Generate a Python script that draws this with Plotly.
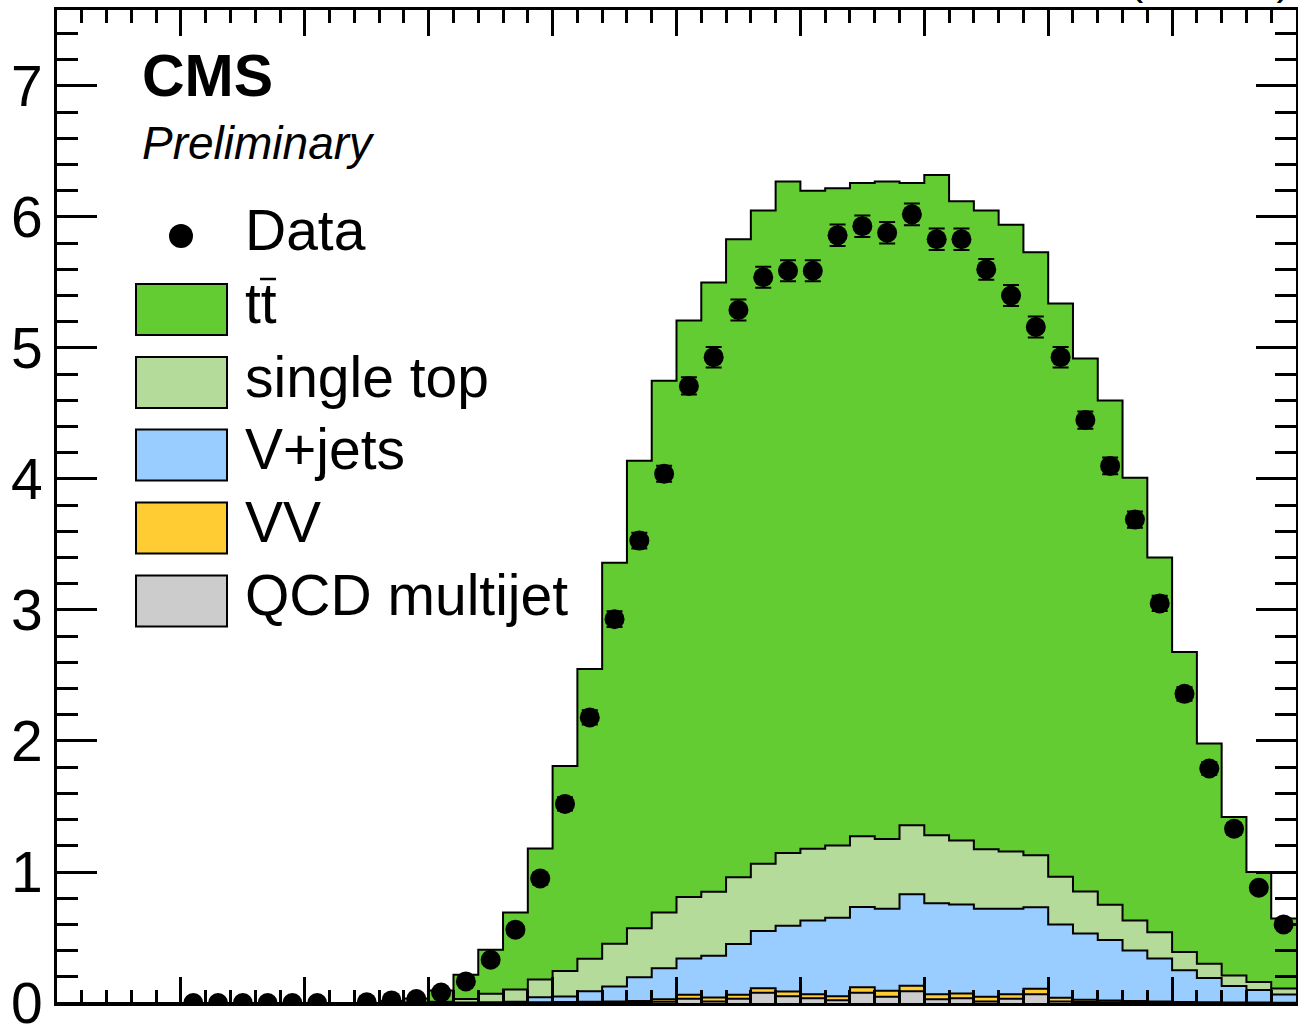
import plotly.graph_objects as go

# ---------------- data ----------------
N_BINS = 50
X_MIN, X_MAX = 0.0, 50.0
Y_MAX = 7.58
FIRST_MC_BIN = 13          # MC arrays below start at this bin
FIRST_DATA_BIN = 5         # data array below starts at this bin

ttbar = [0.015, 0.032, 0.085, 0.185, 0.336, 0.587, 1.00, 1.565, 2.212, 2.908,
         3.57, 4.06, 4.40, 4.65, 4.87, 4.987, 5.125, 5.022, 5.017, 4.988,
         5.019, 4.904, 5.04, 4.879, 4.877, 4.783, 4.603, 4.376, 4.068, 3.85,
         3.38, 2.86, 2.29, 1.68, 1.21, 0.84, 0.535]
single_top = [0.0, 0.002, 0.008, 0.026, 0.064, 0.093, 0.136, 0.195, 0.248, 0.326,
              0.373, 0.424, 0.47, 0.49, 0.51, 0.513, 0.555, 0.548, 0.553, 0.54,
              0.531, 0.526, 0.518, 0.489, 0.453, 0.437, 0.397, 0.364, 0.322, 0.27,
              0.23, 0.20, 0.14, 0.11, 0.08, 0.06, 0.045]
v_jets = [0.0, 0.001, 0.001, 0.002, 0.003, 0.006, 0.038, 0.042, 0.08, 0.114,
          0.182, 0.237, 0.277, 0.318, 0.387, 0.437, 0.502, 0.563, 0.598, 0.612,
          0.627, 0.699, 0.695, 0.68, 0.673, 0.653, 0.622, 0.56, 0.505, 0.46,
          0.385, 0.328, 0.242, 0.184, 0.126, 0.097, 0.063]
vv = [0.0, 0.0, 0.001, 0.001, 0.002, 0.002, 0.004, 0.005, 0.006, 0.008,
      0.01, 0.019, 0.031, 0.03, 0.031, 0.035, 0.036, 0.03, 0.031, 0.042,
      0.046, 0.041, 0.038, 0.035, 0.035, 0.035, 0.041, 0.028, 0.017, 0.014,
      0.01, 0.008, 0.005, 0.004, 0.003, 0.002, 0.001]
qcd = [0.0, 0.0, 0.0, 0.001, 0.001, 0.002, 0.002, 0.003, 0.004, 0.004,
       0.005, 0.01, 0.032, 0.012, 0.032, 0.078, 0.052, 0.037, 0.021, 0.078,
       0.047, 0.09, 0.029, 0.037, 0.012, 0.032, 0.067, 0.012, 0.008, 0.006,
       0.005, 0.004, 0.003, 0.002, 0.001, 0.001, 0.001]

data_vals = [0, 0, 0, 0, 0, 0, None, 0.005, 0.02, 0.03,
             0.08, 0.165, 0.33, 0.56, 0.95, 1.52, 2.18, 2.93, 3.53, 4.04,
             4.71, 4.93, 5.29, 5.54, 5.59, 5.59, 5.86, 5.93, 5.88, 6.02,
             5.83, 5.83, 5.60, 5.40, 5.16, 4.93, 4.45, 4.10, 3.69, 3.05,
             2.36, 1.79, 1.33, 0.88, 0.60]
data_errs = [0, 0, 0, 0, 0, 0, None, 0.005, 0.01, 0.01,
             0.015, 0.02, 0.03, 0.035, 0.045, 0.05, 0.055, 0.06, 0.06, 0.062,
             0.066, 0.078, 0.08, 0.08, 0.08, 0.08, 0.082, 0.082, 0.082, 0.083,
             0.082, 0.082, 0.08, 0.08, 0.08, 0.078, 0.066, 0.064, 0.062, 0.058,
             0.052, 0.048, 0.043, 0.035, 0.03]

legend_labels = ["Data", "tt", "single top", "V+jets", "VV", "QCD multijet"]
colors = {"ttbar": "#63CC33", "single_top": "#B5DB9B", "v_jets": "#99CCFF",
          "vv": "#FFCC33", "qcd": "#CCCCCC"}

# ---------------- figure ----------------
bin_w = (X_MAX - X_MIN) / N_BINS
edges = [X_MIN + i * bin_w for i in range(N_BINS + 1)]
centers = [X_MIN + (i + 0.5) * bin_w for i in range(N_BINS)]


def full(vals):
    v = [0.0] * FIRST_MC_BIN + list(vals)
    return v + [v[-1]]          # repeat last value for the closing edge (hv step)


fig = go.Figure()
for name, vals, key in [("QCD multijet", qcd, "qcd"), ("VV", vv, "vv"),
                        ("V+jets", v_jets, "v_jets"),
                        ("single top", single_top, "single_top"),
                        ("tt", ttbar, "ttbar")]:
    fig.add_trace(go.Scatter(
        x=edges, y=full(vals), mode="lines", name=name,
        stackgroup="bkg", line=dict(shape="hv", color="black", width=2),
        fillcolor=colors[key], showlegend=False, hoverinfo="skip"))

fig.add_trace(go.Scatter(
    x=centers[FIRST_DATA_BIN:FIRST_DATA_BIN + len(data_vals)], y=data_vals,
    mode="markers", name="Data", showlegend=False,
    marker=dict(color="black", size=20),
    error_y=dict(type="data", array=data_errs, visible=True,
                 color="black", thickness=2, width=8)))

# pixel geometry of the plotting frame
PL, PR, PT, PB = 57, 1296, 10, 1003


def px(x):
    return (x - PL) / (PR - PL)


def py(y):
    return (PB - y) / (PB - PT)


FONT = "Liberation Sans, Arial, Helvetica, sans-serif"
shapes = []
annotations = []

# legend
leg_centers = [236, 309.5, 382.5, 455, 528, 601]
box_keys = ["ttbar", "single_top", "v_jets", "vv", "qcd"]
r = 12
shapes.append(dict(type="circle", xref="paper", yref="paper",
                   x0=px(181 - r), x1=px(181 + r), y0=py(236 + r), y1=py(236 - r),
                   fillcolor="black", line=dict(color="black", width=0)))
for key, cy in zip(box_keys, leg_centers[1:]):
    shapes.append(dict(type="rect", xref="paper", yref="paper",
                       x0=px(136), x1=px(227), y0=py(cy + 25.5), y1=py(cy - 25.5),
                       fillcolor=colors[key], line=dict(color="black", width=2)))
for lab, cy in zip(legend_labels, leg_centers):
    annotations.append(dict(text=lab, xref="paper", yref="paper", x=px(243), y=py(cy - 6),
                            xanchor="left", yanchor="middle", showarrow=False,
                            font=dict(family=FONT, size=57, color="black")))
# bar over the second t of "tt"
shapes.append(dict(type="line", xref="paper", yref="paper",
                   x0=px(260), x1=px(276), y0=py(279), y1=py(279),
                   line=dict(color="black", width=2.5)))

annotations.append(dict(text="<b>CMS</b>", xref="paper", yref="paper", x=px(140), y=py(76),
                        xanchor="left", yanchor="middle", showarrow=False,
                        font=dict(family=FONT, size=59, color="black")))
annotations.append(dict(text="<i>Preliminary</i>", xref="paper", yref="paper", x=px(140),
                        y=py(143), xanchor="left", yanchor="middle", showarrow=False,
                        font=dict(family=FONT, size=46, color="black")))
annotations.append(dict(text="(13 TeV)", xref="paper", yref="paper", x=px(1293),
                        y=py(-21), xanchor="right", yanchor="middle", showarrow=False,
                        font=dict(family=FONT, size=43, color="black")))

fig.update_layout(
    width=1298, height=1025,
    margin=dict(l=PL, r=1298 - PR, t=PT, b=1025 - PB, autoexpand=False),
    paper_bgcolor="white", plot_bgcolor="white",
    shapes=shapes, annotations=annotations, showlegend=False,
    xaxis=dict(range=[X_MIN, X_MAX], showgrid=False, zeroline=False, automargin=False,
               showline=True, linecolor="black", linewidth=3, mirror="allticks",
               ticks="inside", ticklen=26, tickwidth=2.5, tickcolor="black",
               dtick=5, tick0=0, showticklabels=False,
               minor=dict(ticks="inside", ticklen=13, tickwidth=2.5,
                          tickcolor="black", dtick=1)),
    yaxis=dict(range=[0, Y_MAX], showgrid=False, zeroline=False, automargin=False,
               showline=True, linecolor="black", linewidth=3, mirror="allticks",
               ticks="inside", ticklen=40, tickwidth=2.5, tickcolor="black",
               dtick=1, tick0=0, ticklabelstandoff=0, ticklabeloverflow="allow",
               tickfont=dict(family=FONT, size=57, color="black"),
               minor=dict(ticks="inside", ticklen=21, tickwidth=2.5,
                          tickcolor="black", dtick=0.2)),
)

fig.write_html("out.html", config={"displayModeBar": False},
               post_script="document.body.style.margin='0';"
                           "document.body.style.overflow='hidden';")
